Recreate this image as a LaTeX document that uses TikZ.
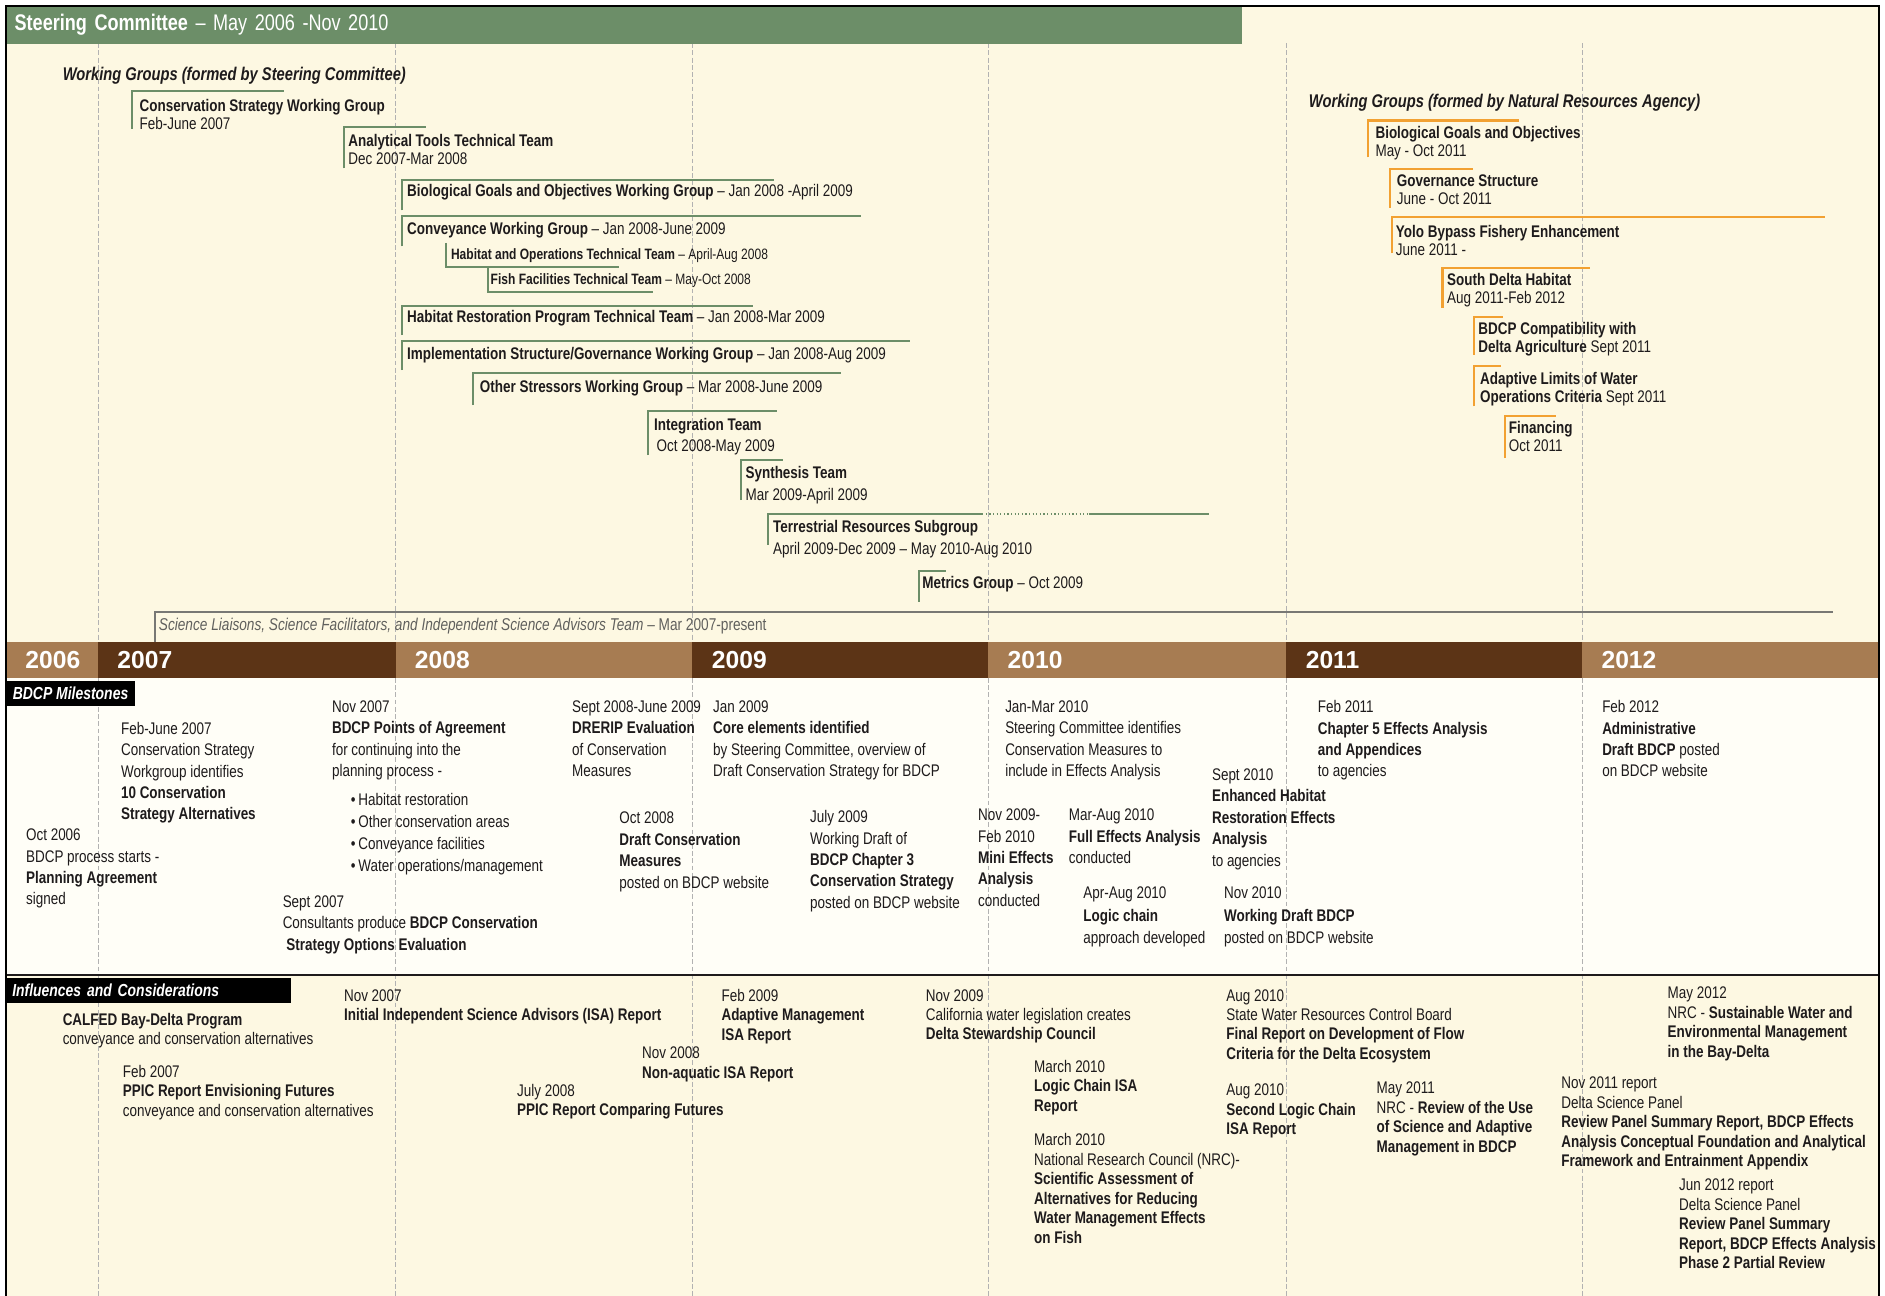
\documentclass[tikz,border=0pt]{standalone}
\usepackage{fontspec}
\setmainfont{Liberation Sans}[FakeStretch=0.8]
\newfontfamily\yearfont{Liberation Sans}
\usepackage{xcolor}
\usepackage{tikz}
\usetikzlibrary{positioning}
\definecolor{ink}{RGB}{30,27,28}
\definecolor{scgreen}{RGB}{108,142,104}
\definecolor{nraorange}{RGB}{242,161,50}
\definecolor{cream}{RGB}{253,248,226}
\definecolor{paper}{RGB}{255,254,247}
\definecolor{lbrown}{RGB}{167,124,82}
\definecolor{dbrown}{RGB}{92,52,22}
\definecolor{sciline}{RGB}{120,120,116}
\tikzstyle{msnote} = [anchor=north west, inner sep=0pt, align=left, text=ink, font=\fontsize{14}{17.8}\selectfont]
\tikzstyle{infnote} = [msnote, font=\fontsize{14}{16.2}\selectfont]
\tikzstyle{grptext} = [msnote, font=\fontsize{14}{14.8}\selectfont]
\tikzstyle{grpwide} = [msnote, font=\fontsize{14}{17.6}\selectfont]
\tikzstyle{grpsmall} = [msnote, font=\fontsize{12.5}{14}\selectfont]
\tikzstyle{wgline} = [scgreen, line width=1.7pt]
\tikzstyle{nraline} = [nraorange, line width=2pt]
\tikzstyle{yearline} = [gray!60, dash pattern=on 4pt off 2pt, line width=0.6pt]
\tikzstyle{yearlabel} = [anchor=west, inner sep=0pt, text=white, font=\yearfont\bfseries\fontsize{20.5}{20.5}\selectfont]
\tikzstyle{sechead} = [anchor=north west, fill=black, text=white, inner xsep=5pt, inner ysep=0pt, minimum height=21pt, font=\bfseries\itshape\fontsize{14.5}{14.5}\selectfont]
\tikzstyle{wgtitle} = [anchor=west, inner sep=0pt, text=ink, font=\bfseries\itshape\fontsize{15.3}{15.3}\selectfont]

\begin{document}
\begin{tikzpicture}[x=1pt, y=-1pt]
			\useasboundingbox (0,0) rectangle (1568,1078);
			
			\fill[cream] (5,5) rectangle (1563,534);
			\fill[paper] (5,564) rectangle (1563,811);
			\fill[cream] (5,811) rectangle (1563,1085);
			
			\foreach \x in {81.5,329,576,822,1070,1316}
				\draw[yearline] (\x,36) -- (\x,1085);
			
			\foreach \xa/\xb/\yr/\yc in {5/81.5/2006/lbrown, 81.5/329/2007/dbrown, 329/576/2008/lbrown, 576/822/2009/dbrown, 822/1070/2010/lbrown, 1070/1316/2011/dbrown, 1316/1563/2012/lbrown}{
				\fill[\yc] (\xa,534) rectangle (\xb,564);
				\node (yr\yr) [yearlabel] at (\xa+16,549) {\yr};
			}
			
			\node (steer) [anchor=north west, fill=scgreen, text=white, inner xsep=7pt, inner ysep=0pt, minimum height=31pt, text width=1014pt, align=left, font=\fontsize{18.8}{18.8}\selectfont] at (5,5) {\textbf{Steering Committee} -- May 2006 -Nov 2010};
			
			\node (wgsc) [wgtitle] at (52,63) {Working Groups (formed by Steering Committee)};
			\node (wgnra) [wgtitle] at (1088.6,85.4) {Working Groups (formed by Natural Resources Agency)};
			
			\node (cswg) [grptext] at (116,82.3) {\textbf{Conservation Strategy Working Group}\\Feb-June 2007};
			\node (attt) [grptext] at (289.6,111.5) {\textbf{Analytical Tools Technical Team}\\Dec 2007-Mar 2008};
			\node (bgwg) [grptext] at (338.5,153.5) {\textbf{Biological Goals and Objectives Working Group} -- Jan 2008 -April 2009};
			\node (cvwg) [grptext] at (338.5,184.5) {\textbf{Conveyance Working Group} -- Jan 2008-June 2009};
			\node (hott) [grpsmall] at (375,207) {\textbf{Habitat and Operations Technical Team} -- April-Aug 2008};
			\node (fftt) [grpsmall] at (408,227) {\textbf{Fish Facilities Technical Team} -- May-Oct 2008};
			\node (hrpt) [grptext] at (338.5,258) {\textbf{Habitat Restoration Program Technical Team} -- Jan 2008-Mar 2009};
			\node (isgw) [grptext] at (338.5,288.3) {\textbf{Implementation Structure/Governance Working Group} -- Jan 2008-Aug 2009};
			\node (oswg) [grptext] at (399,316.2) {\textbf{Other Stressors Working Group} -- Mar 2008-June 2009};
			\node (intt) [grpwide] at (544,348) {\textbf{Integration Team}\\\hspace{2pt}Oct 2008-May 2009};
			\node (syth) [grpwide] at (620,388) {\textbf{Synthesis Team}\\Mar 2009-April 2009};
			\node (trsg) [grpwide] at (643,433) {\textbf{Terrestrial Resources Subgroup}\\April 2009-Dec 2009 -- May 2010-Aug 2010};
			\node (mgrp) [grptext] at (767,479.5) {\textbf{Metrics Group} -- Oct 2009};
			
			\node (nbg) [grptext] at (1144,105) {\textbf{Biological Goals and Objectives}\\May - Oct 2011};
			\node (ngs) [grptext] at (1161.8,145.5) {\textbf{Governance Structure}\\June - Oct 2011};
			\node (nyb) [grptext] at (1161,187.2) {\textbf{Yolo Bypass Fishery Enhancement}\\June 2011 -};
			\node (nsd) [grptext] at (1203.6,227.5) {\textbf{South Delta Habitat}\\Aug 2011-Feb 2012};
			\node (nca) [grptext] at (1229.6,268.2) {\textbf{BDCP Compatibility with}\\\textbf{Delta Agriculture} Sept 2011};
			\node (nal) [grptext] at (1231,309.8) {\textbf{Adaptive Limits of Water}\\\textbf{Operations Criteria} Sept 2011};
			\node (nfi) [grptext] at (1255,350.5) {\textbf{Financing}\\Oct 2011};
			
			\draw[wgline] (110,107) |- (236,76);
			\draw[wgline] (286,140) |- (354,106);
			\draw[wgline] (334,175) |- (644,150);
			\draw[wgline] (334,205) |- (716,180);
			\draw[wgline] (371,202) |- (515,222);
			\draw[wgline] (406,222) |- (543,243);
			\draw[wgline] (334,278.7) |- (626,254.6);
			\draw[wgline] (334,307.8) |- (757,283.7);
			\draw[wgline] (393.7,337) |- (699.6,310.5);
			\draw[wgline] (539,378.5) |- (646.7,342);
			\draw[wgline] (616.5,416) |- (651,382.6);
			\draw[wgline] (639,453) |- (817,427.6);
			\draw[scgreen, line width=1pt, dotted] (817,427.6) -- (905.5,427.6);
			\draw[wgline] (905.5,427.6) -- (1005.7,427.6);
			\draw[wgline] (764.7,500.5) |- (787,474.7);
			
			\draw[nraline] (1138,131) |- (1263.6,100.4);
			\draw[nraline] (1156,173) |- (1225,140.6);
			\draw[nraline] (1158,210.6) |- (1518,180.7);
			\draw[nraline] (1200,256) |- (1323,223);
			\draw[nraline] (1226,295) |- (1250,263.8);
			\draw[nraline] (1226,338) |- (1248.6,304.5);
			\draw[nraline] (1252,381) |- (1294,346);
			
			\draw[sciline, line width=1.5pt] (129,534) |- (1525,508.8);
			\node (scit) [anchor=west, inner sep=0pt, text=sciline!80!black, font=\fontsize{14.2}{14.2}\selectfont] at (132,521) {\textit{Science Liaisons, Science Facilitators, and Independent Science Advisors Team} -- Mar 2007-present};
			
			\node (mshead) [sechead, inner xsep=3pt, minimum width=107pt] at (5,566) {BDCP Milestones};
			
			\node (m06) [msnote] at (21.5,689.3) {Oct 2006\\BDCP process starts -\\\textbf{Planning Agreement}\\signed};
			\node (m07a) [msnote] at (100.5,600.4) {Feb-June 2007\\Conservation Strategy\\Workgroup identifies\\\textbf{10 Conservation}\\\textbf{Strategy Alternatives}};
			\node (m07b) [msnote] at (276,582.5) {Nov 2007\\\textbf{BDCP Points of Agreement}\\for continuing into the\\planning process -};
			\node (m07l) [msnote, font=\fontsize{14}{18.3}\selectfont] at (291.7,659.4) {\textbullet\,Habitat restoration\\\textbullet\,Other conservation areas\\\textbullet\,Conveyance facilities\\\textbullet\,Water operations/management};
			\node (m07c) [msnote] at (235,744.7) {Sept 2007\\Consultants produce \textbf{BDCP Conservation}\\\hspace{3pt}\textbf{Strategy Options Evaluation}};
			\node (m08a) [msnote] at (475.8,582.5) {Sept 2008-June 2009\\\textbf{DRERIP Evaluation}\\of Conservation\\Measures};
			\node (m08b) [msnote] at (515,675.3) {Oct 2008\\\textbf{Draft Conservation}\\\textbf{Measures}\\posted on BDCP website};
			\node (m09a) [msnote] at (593,582.5) {Jan 2009\\\textbf{Core elements identified}\\by Steering Committee, overview of\\Draft Conservation Strategy for BDCP};
			\node (m09b) [msnote] at (673.7,674) {July 2009\\Working Draft of\\\textbf{BDCP Chapter 3}\\\textbf{Conservation Strategy}\\posted on BDCP website};
			\node (m09c) [msnote] at (813.4,672.7) {Nov 2009-\\Feb 2010\\\textbf{Mini Effects}\\\textbf{Analysis}\\conducted};
			\node (m10a) [msnote] at (836,582.5) {Jan-Mar 2010\\Steering Committee identifies\\Conservation Measures to\\include in Effects Analysis};
			\node (m10b) [msnote] at (889,672.7) {Mar-Aug 2010\\\textbf{Full Effects Analysis}\\conducted};
			\node (m10c) [msnote, font=\fontsize{14}{18.5}\selectfont] at (901,737.7) {Apr-Aug 2010\\\textbf{Logic chain}\\approach developed};
			\node (m10d) [msnote] at (1008,639.3) {Sept 2010\\\textbf{Enhanced Habitat}\\\textbf{Restoration Effects}\\\textbf{Analysis}\\to agencies};
			\node (m10e) [msnote, font=\fontsize{14}{18.5}\selectfont] at (1018,737.7) {Nov 2010\\\textbf{Working Draft BDCP}\\posted on BDCP website};
			\node (m11) [msnote] at (1096,582.5) {Feb 2011\\\textbf{Chapter 5 Effects Analysis}\\\textbf{and Appendices}\\to agencies};
			\node (m12) [msnote] at (1332.6,582.5) {Feb 2012\\\textbf{Administrative}\\\textbf{Draft BDCP} posted\\on BDCP website};
			
			\draw[ink, line width=1.5pt] (5,811) -- (1563,811);
			\node (infhead) [sechead, text width=227pt, align=left] at (5,813) {Influences and Considerations};
			
			\node (i06) [infnote] at (52,842.7) {\textbf{CALFED Bay-Delta Program}\\conveyance and conservation alternatives};
			\node (i07a) [infnote] at (102,885.7) {Feb 2007\\\textbf{PPIC Report Envisioning Futures}\\conveyance and conservation alternatives};
			\node (i07b) [infnote] at (286,822.7) {Nov 2007\\\textbf{Initial Independent Science Advisors (ISA) Report}};
			\node (i08a) [infnote] at (430,901.7) {July 2008\\\textbf{PPIC Report Comparing Futures}};
			\node (i08b) [infnote] at (534,870.7) {Nov 2008\\\textbf{Non-aquatic ISA Report}};
			\node (i09a) [infnote] at (600,822.7) {Feb 2009\\\textbf{Adaptive Management}\\\textbf{ISA Report}};
			\node (i09b) [infnote] at (770,822.7) {Nov 2009\\California water legislation creates\\\textbf{Delta Stewardship Council}};
			\node (i10a) [infnote] at (860,881.7) {March 2010\\\textbf{Logic Chain ISA}\\\textbf{Report}};
			\node (i10b) [infnote] at (860,942.7) {March 2010\\National Research Council (NRC)-\\\textbf{Scientific Assessment of}\\\textbf{Alternatives for Reducing}\\\textbf{Water Management Effects}\\\textbf{on Fish}};
			\node (i10c) [infnote] at (1020,822.7) {Aug 2010\\State Water Resources Control Board\\\textbf{Final Report on Development of Flow}\\\textbf{Criteria for the Delta Ecosystem}};
			\node (i10d) [infnote] at (1020,901.7) {Aug 2010\\\textbf{Second Logic Chain}\\\textbf{ISA Report}};
			\node (i11a) [infnote] at (1145,899.7) {May 2011\\NRC - \textbf{Review of the Use}\\\textbf{of Science and Adaptive}\\\textbf{Management in BDCP}};
			\node (i11b) [infnote] at (1298.6,895.7) {Nov 2011 report\\Delta Science Panel\\\textbf{Review Panel Summary Report, BDCP Effects}\\\textbf{Analysis Conceptual Foundation and Analytical}\\\textbf{Framework and Entrainment Appendix}};
			\node (i12a) [infnote] at (1387,820.7) {May 2012\\NRC - \textbf{Sustainable Water and}\\\textbf{Environmental Management}\\\textbf{in the Bay-Delta}};
			\node (i12b) [infnote] at (1396.6,980.7) {Jun 2012 report\\Delta Science Panel\\\textbf{Review Panel Summary}\\\textbf{Report, BDCP Effects Analysis}\\\textbf{Phase 2 Partial Review}};
			
			\draw[black, line width=1.5pt] (5,5) rectangle (1563,1090);
			
		\end{tikzpicture}
\end{document}
